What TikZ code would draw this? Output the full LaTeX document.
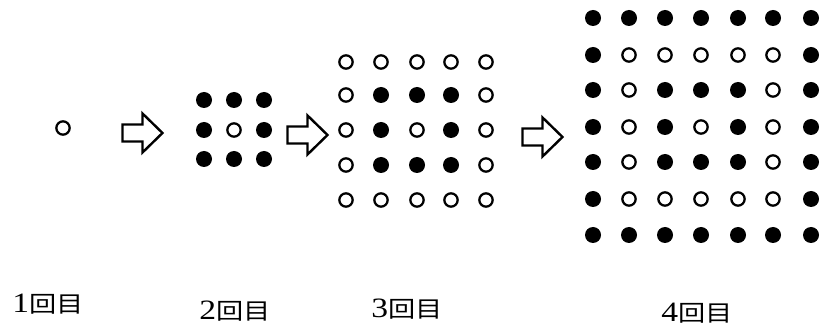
\documentclass[tikz,border=0pt]{standalone}
\usepackage{fontspec}
\setmainfont{Liberation Serif}
\newfontfamily\cjk{Noto Sans CJK JP}
\tikzset{
  x=0.75pt, y=-0.75pt,
  fdot/.style={circle, fill=black, inner sep=0pt, minimum size=12pt},
  odot/.style={circle, draw=black, line width=1.7pt, inner sep=0pt, minimum size=10pt},
  lbl/.style={anchor=west, inner sep=0pt, font=\fontsize{17pt}{20pt}\selectfont},
  pics/blockarrow/.style={code={
    \draw[line width=1.8pt, line join=miter, fill=white]
      (-20,-8.5) -- (0,-8.5) -- (0,-19.5) -- (20,0) -- (0,19.5) -- (0,8.5) -- (-20,8.5) -- cycle;
  }}
}
\newcommand{\dotgrid}[4]{%
  \foreach \yy [count=\r] in {#4} {
    \foreach \xx [count=\c] in {#3} {
      \pgfmathtruncatemacro{\dd}{max(abs(\r-#2),abs(\c-#2))}
      \pgfmathtruncatemacro{\oddv}{mod(\dd,2)}
      \ifnum\oddv=1
        \node[fdot] (#1-\r-\c) at (\xx,\yy) {};
      \else
        \node[odot] (#1-\r-\c) at (\xx,\yy) {};
      \fi
    }
  }%
}
\newcommand{\kaime}[1]{\scalebox{1.2}[1]{{\fontsize{21pt}{20pt}\selectfont #1}{\cjk 回目}}}
\begin{document}
\begin{tikzpicture}
\useasboundingbox (0,0) rectangle (824,331);
% grid 1
\dotgrid{ga}{1}{63}{128}
% grid 2
\dotgrid{gb}{2}{204,234,264}{100,130,159}
% grid 3
\dotgrid{gc}{3}{346,381,417,451,486}{62,95,130,165,200}
% grid 4
\dotgrid{gd}{4}{593,629,665,701,738,773,811}{18,55,90,127,162,199,235}
% arrows
\pic (a1) at (142.5,133) {blockarrow};
\pic (a2) at (307.5,135) {blockarrow};
\pic (a3) at (542.5,137) {blockarrow};
% labels
\node[lbl] (l1) at (12,304) {\kaime{1}};
\node[lbl] (l2) at (199,311) {\kaime{2}};
\node[lbl] (l3) at (371,309) {\kaime{3}};
\node[lbl] (l4) at (661,313) {\kaime{4}};
\end{tikzpicture}
\end{document}
